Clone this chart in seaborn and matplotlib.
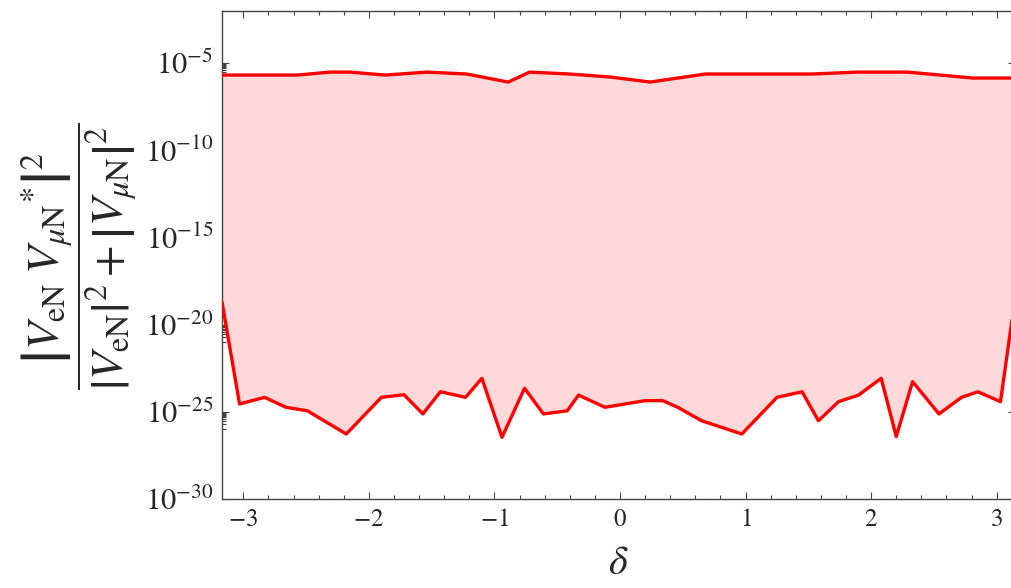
import numpy as np
import matplotlib
matplotlib.use("Agg")
import matplotlib.pyplot as plt
import matplotlib.ticker as mticker
import seaborn as sns

# --- dati (delta, log10 del rapporto) ---
delta_upper = [-3.17, -2.57, -2.31, -2.15, -1.87, -1.54, -1.22, -0.89, -0.72,
               -0.40, -0.08, 0.24, 0.68, 1.53, 1.89, 2.29, 2.81, 3.14]
log_upper = [-5.70, -5.70, -5.53, -5.53, -5.70, -5.53, -5.64, -6.10, -5.53,
             -5.64, -5.81, -6.10, -5.64, -5.64, -5.53, -5.53, -5.87, -5.87]

delta_lower = [-3.17, -3.03, -2.83, -2.66, -2.49, -2.18, -1.90, -1.72, -1.57,
               -1.43, -1.23, -1.10, -0.94, -0.76, -0.61, -0.42, -0.33, -0.12,
               0.20, 0.34, 0.46, 0.65, 0.97, 1.25, 1.45, 1.58, 1.74, 1.90,
               2.08, 2.20, 2.33, 2.54, 2.72, 2.85, 3.03, 3.14]
log_lower = [-18.68, -24.54, -24.16, -24.73, -24.93, -26.26, -24.16, -24.01, -25.11,
             -23.84, -24.16, -23.07, -26.45, -23.64, -25.11, -24.93, -24.03, -24.73,
             -24.35, -24.35, -24.73, -25.50, -26.26, -24.16, -23.84, -25.50, -24.41, -24.03,
             -23.07, -26.41, -23.26, -25.11, -24.16, -23.84, -24.41, -18.80]

y_major_exp = [-30, -25, -20, -15, -10, -5]
x_major = [-3, -2, -1, 0, 1, 2, 3]

# --- stile ---
sns.set_theme(style="ticks")
plt.rcParams['font.family'] = ['STIXGeneral', 'DejaVu Serif']
plt.rcParams['mathtext.fontset'] = 'stix'

W, H = 1011, 588
fig = plt.figure(figsize=(W / 100, H / 100), dpi=100)
ax = fig.add_axes([221.7 / W, 1 - 499.3 / H, (1014.5 - 221.7) / W, (499.3 - 11) / H])

y_up = 10.0 ** np.array(log_upper)
y_lo = 10.0 ** np.array(log_lower)

# area tra le due curve
poly_x = np.concatenate([delta_upper, delta_lower[::-1]])
poly_y = np.concatenate([y_up, y_lo[::-1]])
ax.fill(poly_x, poly_y, color='#ffd8da', lw=0, zorder=1)

sns.lineplot(x=delta_upper, y=y_up, ax=ax, color='#ff0000', lw=2.4, sort=False, zorder=3)
sns.lineplot(x=delta_lower, y=y_lo, ax=ax, color='#ff0000', lw=2.4, sort=False, zorder=3)

ax.set_yscale('log')
ax.set_xlim(-3.172, np.pi)
ax.set_ylim(1e-30, 10 ** -2.03)

# tick
ax.xaxis.set_major_locator(mticker.FixedLocator(x_major))
ax.xaxis.set_minor_locator(mticker.MultipleLocator(0.2))
ax.set_xticklabels([f'${v}$' for v in x_major])

ax.yaxis.set_major_locator(mticker.FixedLocator([10.0 ** e for e in y_major_exp]))
ax.set_yticklabels([f'$10^{{{e}}}$' for e in y_major_exp])
minor = [k * 10.0 ** (e - 1) for e in y_major_exp for k in range(1, 10)]
ax.yaxis.set_minor_locator(mticker.FixedLocator(minor))
ax.yaxis.set_minor_formatter(mticker.NullFormatter())

ax.tick_params(which='both', direction='in', top=True, right=True, color='#444444', width=0.8)
ax.tick_params(which='major', length=5)
ax.tick_params(which='minor', length=3)
ax.tick_params(axis='x', which='major', labelsize=18, pad=6)
ax.tick_params(axis='y', which='major', labelsize=22, pad=6)

for s in ax.spines.values():
    s.set_color('#444444')
    s.set_linewidth(1.0)

ax.set_xlabel(r'$\delta$', fontsize=29, labelpad=10)
ax.set_ylabel('')

ylab = (r'$\dfrac{\left|V_{\mathrm{eN}}\;V_{\mu\mathrm{N}}{}^{*}\right|^{2}}'
        r'{\left|V_{\mathrm{eN}}\right|^{2}+\left|V_{\mu\mathrm{N}}\right|^{2}}$')
fig.text(80 / W, 1 - 256 / H, ylab, rotation=90, ha='center', va='center', fontsize=33)

fig.savefig('out.png', dpi=100)
